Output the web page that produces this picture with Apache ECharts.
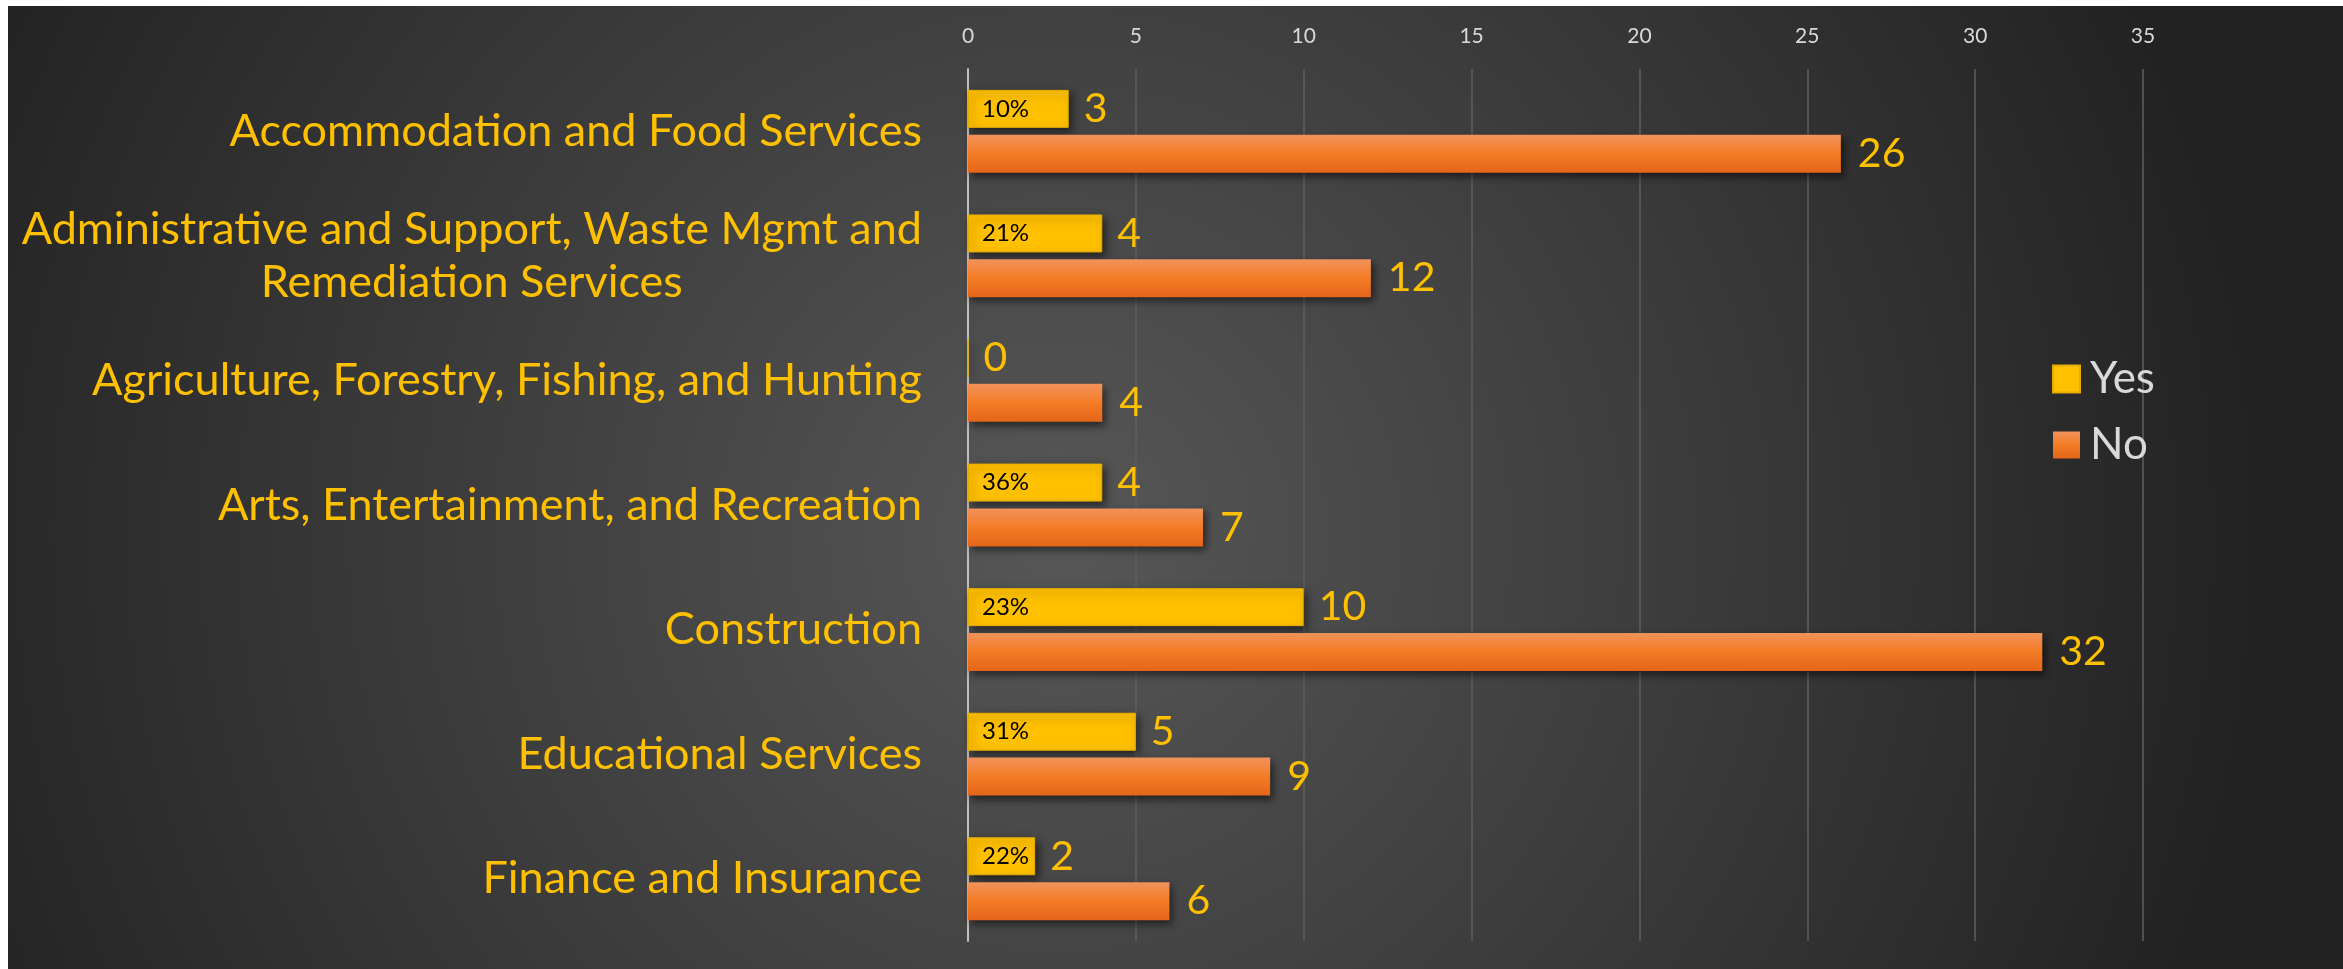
<!DOCTYPE html>
<html>
<head>
<meta charset="utf-8">
<script src="https://cdn.jsdelivr.net/npm/echarts@6/dist/echarts.min.js"></script>
<style>
  html, body { margin: 0; padding: 0; background: #ffffff; }
  #chart { position: absolute; left: 8px; top: 6px; width: 2335px; height: 963px; }
</style>
</head>
<body>
<div id="chart"></div>
<script>
// chart data
const categories = [
  'Accommodation and Food Services',
  'Administrative and Support, Waste Mgmt and\nRemediation Services',
  'Agriculture, Forestry, Fishing, and Hunting',
  'Arts, Entertainment, and Recreation',
  'Construction',
  'Educational Services',
  'Finance and Insurance'
];
const yesValues = [3, 4, 0, 4, 10, 5, 2];
const noValues = [26, 12, 4, 7, 32, 9, 6];
const yesShare = ['10%', '21%', '', '36%', '23%', '31%', '22%'];
const xTicks = [0, 35, 5]; // min, max, step

const FONT = 'Lato';
const YELLOW = '#FFC000';
const BAR_W = 38;
const GAP = '18%';

const chart = echarts.init(document.getElementById('chart'));

const shadow = {
  shadowColor: 'rgba(0,0,0,0.55)',
  shadowBlur: 8,
  shadowOffsetX: 3,
  shadowOffsetY: 4
};

const option = {
  animation: false,
  backgroundColor: {
    type: 'radial', x: 0.45, y: 0.55, r: 1.25,
    colorStops: [
      { offset: 0, color: '#575757' },
      { offset: 1, color: '#222222' }
    ]
  },
  textStyle: { fontFamily: FONT },
  legend: {
    data: ['Yes', 'No'],
    orient: 'vertical',
    left: 2039,
    top: 346,
    icon: 'rect',
    itemWidth: 27,
    itemHeight: 27,
    itemGap: 22,
    textStyle: { color: '#d9d9d9', fontSize: 44, lineHeight: 44, fontFamily: FONT, padding: [0, 0, 0, 5] }
  },
  grid: { left: 960, right: 200, top: 63, bottom: 28 },
  xAxis: {
    type: 'value',
    position: 'top',
    min: xTicks[0],
    max: xTicks[1],
    interval: xTicks[2],
    axisLine: { show: false },
    axisTick: { show: false },
    axisLabel: { color: '#d9d9d9', fontSize: 21, margin: 22 },
    splitLine: { lineStyle: { color: '#5f5f5f', width: 1.5 } }
  },
  yAxis: {
    type: 'category',
    inverse: true,
    data: categories,
    axisTick: { show: false },
    axisLine: { lineStyle: { color: '#bfbfbf', width: 2 } },
    axisLabel: {
      color: YELLOW,
      fontSize: 45,
      margin: 46,
      lineHeight: 53,
      formatter: v => v.split('\n').map(s => '{c|' + s + '}').join('\n'),
      rich: { c: { align: 'center', color: YELLOW, fontSize: 45, lineHeight: 53, fontFamily: FONT } }
    }
  },
  series: [
    {
      name: 'Yes',
      type: 'bar',
      data: yesValues,
      barWidth: BAR_W,
      barGap: GAP,
      itemStyle: Object.assign({ color: YELLOW, borderColor: '#e6ad00', borderWidth: 1 }, shadow),
      label: { show: true, position: 'right', distance: 15, color: YELLOW, fontSize: 41 }
    },
    {
      name: 'No',
      type: 'bar',
      data: noValues,
      barWidth: BAR_W,
      barGap: GAP,
      itemStyle: Object.assign({
        color: {
          type: 'linear', x: 0, y: 0, x2: 0, y2: 1,
          colorStops: [
            { offset: 0, color: '#f1925c' },
            { offset: 0.5, color: '#f47c25' },
            { offset: 1, color: '#e4651a' }
          ]
        }
      }, shadow),
      label: { show: true, position: 'right', distance: 17, color: YELLOW, fontSize: 41 }
    },
    {
      // share labels sitting inside the Yes bars
      name: 'yesShare',
      type: 'pictorialBar',
      data: yesValues,
      symbol: 'rect',
      barWidth: BAR_W,
      barGap: GAP,
      silent: true,
      z: 5,
      itemStyle: { color: 'rgba(0,0,0,0)' },
      label: {
        show: true,
        position: 'insideLeft',
        distance: 14,
        color: '#000000',
        fontSize: 24,
        formatter: p => yesShare[p.dataIndex]
      }
    },
    {
      name: 'noSlot',
      type: 'pictorialBar',
      data: [],
      symbol: 'rect',
      barWidth: BAR_W,
      barGap: GAP,
      silent: true
    }
  ]
};

chart.setOption(option);
window.addEventListener('resize', () => chart.resize());
</script>
</body>
</html>
